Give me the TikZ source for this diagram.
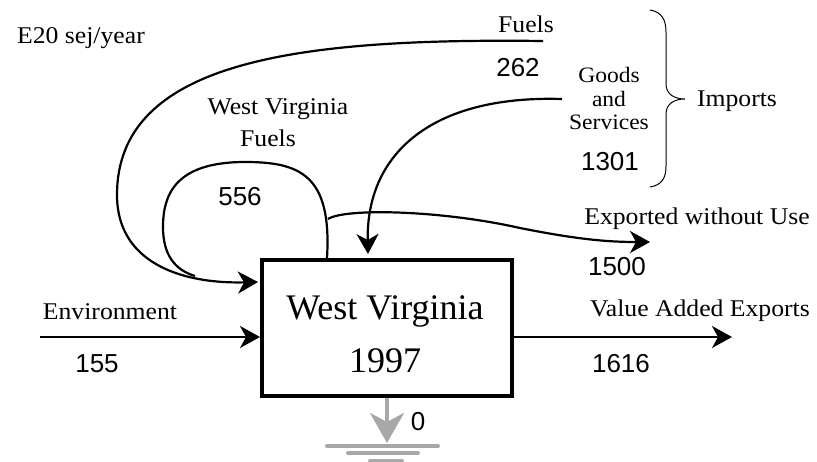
\documentclass[tikz,border=0pt]{standalone}
\usepackage{fontspec}
\setmainfont{Liberation Serif}
\newfontfamily\lblfont[FakeStretch=1.07]{Liberation Serif}
\newfontfamily\numfont{Liberation Sans}
\usetikzlibrary{arrows.meta}
\definecolor{gnd}{HTML}{A8A8A8}
\tikzset{
  flow/.style={line width=2.2pt, -{Stealth[length=20pt,width=22pt,inset=6pt]}},
  plain/.style={line width=2.2pt},
  lbl/.style={inner sep=0pt, anchor=base, font=\lblfont\fontsize{24}{28}\selectfont},
  smalllbl/.style={inner sep=0pt, anchor=base, font=\lblfont\fontsize{22}{25}\selectfont},
  num/.style={inner sep=0pt, font=\numfont\fontsize{26}{30}\selectfont},
  boxtxt/.style={inner sep=0pt, anchor=base, font=\fontsize{36}{40}\selectfont},
  gndarrow/.style={draw=gnd, line width=4pt, -{Stealth[length=30pt,width=34pt,inset=9pt,gnd]}},
  gndline/.style={draw=gnd, line width=4pt, line cap=round},
  brace/.style={line width=1pt}
}
\begin{document}
\begin{tikzpicture}[x=1pt,y=-1pt]
\useasboundingbox (0,0) rectangle (817,462);

% main box
\node[draw, line width=4pt, minimum width=250pt, minimum height=136pt, inner sep=0pt] (wv) at (387,328) {};
\node[boxtxt] (wvname) at (385,320) {West Virginia};
\node[boxtxt] (wvyear) at (385,373) {1997};

% coordinates
\coordinate (fuelStart) at (543,41);
\coordinate (fuelIn) at (258,282);
\coordinate (loopStart) at (327,258);
\coordinate (loopTop) at (245,162);
\coordinate (loopLeft) at (163,227);
\coordinate (loopEnd) at (195,276);
\coordinate (goodsStart) at (562,99);
\coordinate (goodsIn) at (368,254);
\coordinate (expStart) at (328,219);
\coordinate (expMid) at (520,228);
\coordinate (expEnd) at (650,242);
\coordinate (envStart) at (40,337);
\coordinate (vaEnd) at (732,337);
\coordinate (gTip) at (387,443);

% imported fuels
\draw[flow] (fuelStart) .. controls (300,38) and (117,60) .. (117,195)
  .. controls (117,262) and (180,284) .. (fuelIn);
% West Virginia fuels loop
\draw[plain] (loopStart) .. controls (332,175) and (300,162) .. (loopTop)
  .. controls (175,162) and (163,195) .. (loopLeft)
  .. controls (163,255) and (175,270) .. (loopEnd);
% goods and services
\draw[flow] (goodsStart) .. controls (430,95) and (366,155) .. (goodsIn);
% exported without use
\draw[flow] (expStart) .. controls (345,208) and (440,210) .. (expMid)
  .. controls (580,240) and (610,242) .. (expEnd);
% environment
\draw[flow] (envStart) -- (envStart -| wv.west);
% value added exports
\draw[flow] (wv.east |- vaEnd) -- (vaEnd);
% ground
\draw[gndarrow] (wv.south) -- (gTip);
\draw[gndline] (327,446) -- (438,446);
\draw[gndline] (348,453) -- (418,453);
\draw[gndline] (370,461) -- (402,461);

% brace
\draw[brace] (650,10) .. controls (662,12) and (666,20) .. (666,32)
  -- (666,84) .. controls (666,94) and (674,99) .. (685,99)
  .. controls (674,99) and (666,104) .. (666,114)
  -- (666,166) .. controls (666,178) and (662,185) .. (650,187);

% labels
\node[lbl] (unit) at (81,44) {E20 sej/year};
\node[lbl] (fuelLbl) at (526,33) {Fuels};
\node[num] (fuelNum) at (518,68) {262};
\node[smalllbl] (goods1) at (609,83) {Goods};
\node[smalllbl] (goods2) at (609,107) {and};
\node[smalllbl] (goods3) at (609,130) {Services};
\node[num] (goodsNum) at (610,162) {1301};
\node[lbl] (imports) at (737,107) {Imports};
\node[lbl] (wvf1) at (278,115) {West Virginia};
\node[lbl] (wvf2) at (268,147) {Fuels};
\node[num] (wvfNum) at (240,197) {556};
\node[lbl] (expLbl) at (697,225) {Exported without Use};
\node[num] (expNum) at (617,267) {1500};
\node[lbl] (envLbl) at (110,320) {Environment};
\node[num] (envNum) at (97,364) {155};
\node[lbl] (vaLbl) at (700,317) {Value Added Exports};
\node[num] (vaNum) at (621,364) {1616};
\node[num] (gNum) at (418,422) {0};
\end{tikzpicture}
\end{document}
